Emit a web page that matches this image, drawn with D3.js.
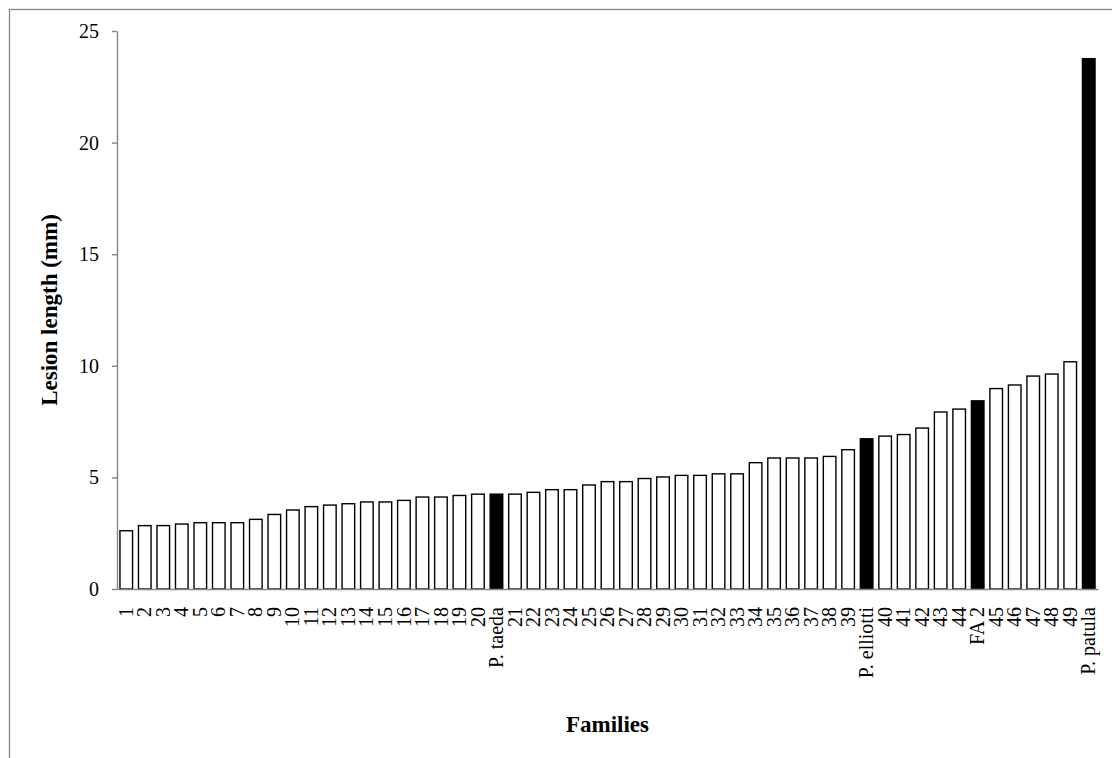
<!DOCTYPE html>
<html>
<head>
<meta charset="utf-8">
<script src="https://cdn.jsdelivr.net/npm/d3@7"></script>
<style>
  body { margin: 0; background: #fff; }
  svg { display: block; }
  text { font-family: "Liberation Serif", "Times New Roman", serif; fill: #000; }
</style>
</head>
<body>
<svg id="chart" width="1112" height="758"></svg>
<script>
// Families (x categories) in the order they are drawn
var families = ['1','2','3','4','5','6','7','8','9','10','11','12','13','14','15','16','17','18','19','20',
  'P. taeda','21','22','23','24','25','26','27','28','29','30','31','32','33','34','35','36','37','38','39',
  'P. elliotti','40','41','42','43','44','FA 2','45','46','47','48','49','P. patula']
// Lesion length in mm
var lesion = [2.61,2.84,2.84,2.91,2.97,2.97,2.97,3.12,3.34,3.54,3.69,3.76,3.82,3.90,3.90,3.97,4.12,4.12,4.19,4.25,
  4.25,4.25,4.33,4.45,4.45,4.66,4.81,4.81,4.95,5.02,5.09,5.09,5.16,5.16,5.66,5.87,5.87,5.87,5.94,6.24,
  6.73,6.85,6.92,7.21,7.93,8.06,8.43,8.98,9.14,9.54,9.63,10.18,23.76]
// Check lots drawn as solid bars
var controls = ['P. taeda','P. elliotti','FA 2','P. patula']
var yTicks = [0,5,10,15,20,25]

var svg = d3.select('#chart')
var axisColor = '#868686'

// outer frame
svg.append('rect')
  .attr('x', 9.5).attr('y', 9.5)
  .attr('width', 1120).attr('height', 780)
  .attr('fill', 'none').attr('stroke', axisColor).attr('stroke-width', 1.3)

// plot area edges
var plotLeft = 117, plotRight = 1098, plotTop = 31, plotBottom = 589

var x = d3.scaleBand()
  .domain(families)
  .range([plotLeft, plotRight])
  .paddingInner(0.32)
  .paddingOuter(0.16)

var y = d3.scaleLinear()
  .domain([0, 25])
  .range([plotBottom, plotTop])

var data = families.map(function(f, i) { return { name: f, value: lesion[i] } })

// bars
svg.append('g')
  .selectAll('rect')
  .data(data)
  .join('rect')
  .attr('x', function(d) { return x(d.name) })
  .attr('y', function(d) { return y(d.value) })
  .attr('width', x.bandwidth())
  .attr('height', function(d) { return y(0) - y(d.value) })
  .attr('fill', function(d) { return controls.indexOf(d.name) >= 0 ? '#000' : '#fff' })
  .attr('stroke', '#000')
  .attr('stroke-width', 1.4)

// y axis
var yAxis = svg.append('g')
  .attr('transform', 'translate(' + plotLeft + ',0)')
  .call(d3.axisLeft(y).tickValues(yTicks).tickSize(5).tickSizeOuter(0).tickPadding(13))
yAxis.select('.domain').attr('stroke', axisColor).attr('stroke-width', 1.4)
yAxis.selectAll('.tick line').attr('stroke', axisColor).attr('stroke-width', 1.4)
yAxis.selectAll('.tick text').style('font-size', '20px').attr('fill', '#000')
  .style('font-family', '"Liberation Serif", serif')

// x axis
var xAxis = svg.append('g')
  .attr('transform', 'translate(0,' + plotBottom + ')')
  .call(d3.axisBottom(x).tickSize(0).tickSizeOuter(0))
xAxis.select('.domain').attr('stroke', axisColor).attr('stroke-width', 1.6)
xAxis.selectAll('.tick text')
  .attr('transform', 'rotate(-90)')
  .attr('x', -18).attr('y', 0).attr('dy', '0.33em')
  .style('text-anchor', 'end')
  .style('font-size', '20px')
  .style('font-family', '"Liberation Serif", serif')
  .attr('fill', '#000')

// axis titles
svg.append('text')
  .attr('x', (plotLeft + plotRight) / 2).attr('y', 732)
  .attr('text-anchor', 'middle')
  .style('font-size', '23px').style('font-weight', 'bold')
  .text('Families')

svg.append('text')
  .attr('transform', 'translate(57,' + ((plotTop + plotBottom) / 2) + ') rotate(-90)')
  .attr('text-anchor', 'middle')
  .style('font-size', '23px').style('font-weight', 'bold')
  .text('Lesion length (mm)')
</script>
</body>
</html>
